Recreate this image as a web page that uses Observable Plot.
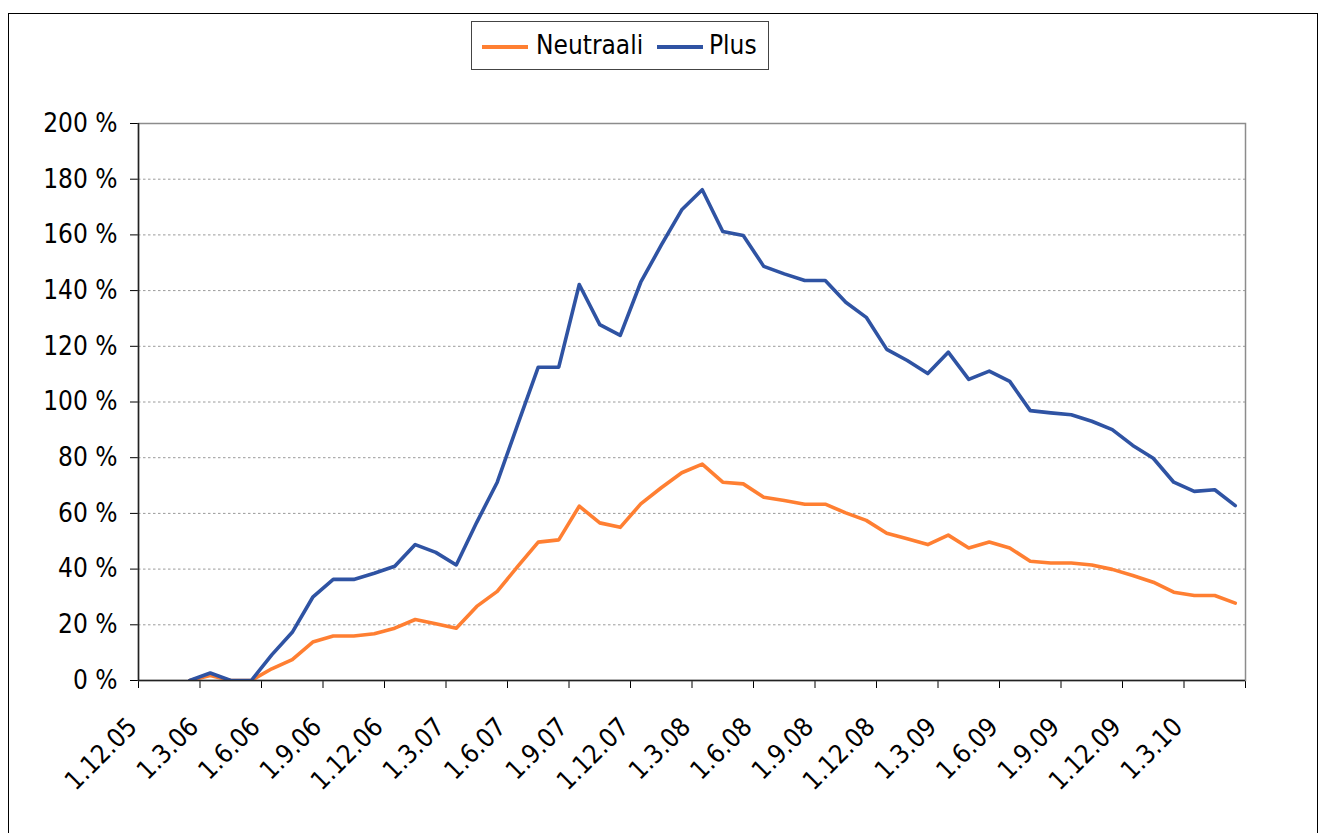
<!DOCTYPE html>
<html>
<head>
<meta charset="utf-8">
<script src="https://cdn.jsdelivr.net/npm/d3@7"></script>
<script src="https://cdn.jsdelivr.net/npm/@observablehq/plot@0.6"></script>
<style>
  html, body { margin: 0; padding: 0; background: #fff; }
  body { width: 1322px; height: 833px; overflow: hidden; position: relative;
         font-family: "DejaVu Sans Condensed", "DejaVu Sans", sans-serif; }
  #frame { position: absolute; left: 8px; top: 13px; width: 1310px; height: 900px;
           border: 1.5px solid #000; box-sizing: border-box; }
  #chart { position: absolute; left: 0; top: 0; }
  #legend { position: absolute; left: 471px; top: 21px; width: 298px; height: 49px;
            border: 1px solid #444; box-sizing: border-box; background: #fff; font-size: 26px; color: #000; }
  #legend .sw { position: absolute; top: 23px; width: 46px; height: 3.5px; }
  #legend .lb { position: absolute; top: 8px; line-height: 30px; white-space: nowrap; }
</style>
</head>
<body>
<div id="frame"></div>
<div id="chart"></div>
<div id="legend"></div>
<script>
// Category (month) axis: tick labels every 3 months, starting at 1.12.05
const xLabels = ["1.12.05","1.3.06","1.6.06","1.9.06","1.12.06","1.3.07","1.6.07","1.9.07",
                 "1.12.07","1.3.08","1.6.08","1.9.08","1.12.08","1.3.09","1.6.09","1.9.09",
                 "1.12.09","1.3.10"];
const monthCount = 54;       // months shown on the axis (Dec 2005 .. May 2010)
const tickEvery = 3;         // a tick every 3 months
const firstDataMonth = 2;    // first data value is for Feb 2006

const seriesNames = ["Neutraali", "Plus"];
const seriesColors = ["#ff7f32", "#2f53a3"];

// Values in percent, one per month from Feb 2006 to May 2010
const neutraali = [0, 1.8, 0, 0, 4.2, 7.5, 13.8, 16, 16, 16.8, 18.8, 21.9, 20.4, 18.8,
  26.6, 32, 41, 49.7, 50.5, 62.6, 56.6, 55, 63.4, 69.2, 74.6, 77.7, 71.2, 70.6,
  65.8, 64.6, 63.3, 63.3, 60.2, 57.5, 52.9, 50.9, 48.8, 52.2, 47.6, 49.7, 47.6,
  42.8, 42.2, 42.2, 41.5, 39.9, 37.7, 35.3, 31.7, 30.5, 30.5, 27.8];
const plus = [0, 2.7, 0, 0, 9.2, 17.3, 29.9, 36.3, 36.3, 38.5, 41, 48.8, 46, 41.5,
  56.8, 71.2, 92, 112.5, 112.5, 142.2, 127.8, 123.9, 143, 156.3, 169, 176.2, 161.2,
  159.8, 148.7, 146, 143.6, 143.6, 135.8, 130.4, 118.9, 114.9, 110.2, 117.9, 108.1,
  111.1, 107.4, 96.9, 96.1, 95.4, 93.1, 90.1, 84.4, 79.8, 71.2, 67.9, 68.5, 62.8];

const yTicks = [0, 20, 40, 60, 80, 100, 120, 140, 160, 180, 200];

const rows = [
  ...neutraali.map((v, i) => ({series: seriesNames[0], m: firstDataMonth + i + 0.5, v})),
  ...plus.map((v, i) => ({series: seriesNames[1], m: firstDataMonth + i + 0.5, v}))
];
const tickPositions = d3.range(0, monthCount + 1, tickEvery);
const fontFamily = '"DejaVu Sans Condensed", "DejaVu Sans", sans-serif';

const chart = Plot.plot({
  width: 1322,
  height: 833,
  marginLeft: 138,
  marginRight: 77,
  marginTop: 123,
  marginBottom: 153,
  style: {fontFamily, fontSize: "26px", color: "#000", background: "transparent", overflow: "visible"},
  x: {domain: [0, monthCount], ticks: tickPositions, tickSize: 8, tickFormat: () => "", label: null},
  y: {domain: [0, 200], ticks: yTicks, tickSize: 8, tickPadding: 13, tickFormat: d => d + " %", label: null},
  color: {domain: seriesNames, range: seriesColors},
  marks: [
    Plot.ruleY(yTicks.filter(t => t > 0 && t < 200), {stroke: "#9a9a9a", strokeWidth: 1, strokeDasharray: "2.5,2.5"}),
    Plot.frame({stroke: "#8c8c8c", strokeWidth: 1.5}),
    Plot.lineY(rows, {x: "m", y: "v", z: "series", stroke: "series", strokeWidth: 3.6, clip: true}),
    Plot.ruleX([0], {stroke: "#222", strokeWidth: 1.5}),
    Plot.ruleY([0], {stroke: "#222", strokeWidth: 1.5}),
    Plot.text(xLabels, {x: (d, i) => i * tickEvery, text: d => d, frameAnchor: "bottom",
      rotate: -45, textAnchor: "end", lineAnchor: "bottom", dy: 48, fontSize: 26, fill: "#000"})
  ]
});
document.getElementById("chart").appendChild(chart);

// Legend
const legend = document.getElementById("legend");
const swLeft = [9.5, 185], lbLeft = [64, 237];
seriesNames.forEach((name, i) => {
  const sw = document.createElement("div");
  sw.className = "sw"; sw.style.left = swLeft[i] + "px"; sw.style.background = seriesColors[i];
  const lb = document.createElement("div");
  lb.className = "lb"; lb.style.left = lbLeft[i] + "px"; lb.textContent = name;
  legend.appendChild(sw); legend.appendChild(lb);
});
</script>
</body>
</html>
